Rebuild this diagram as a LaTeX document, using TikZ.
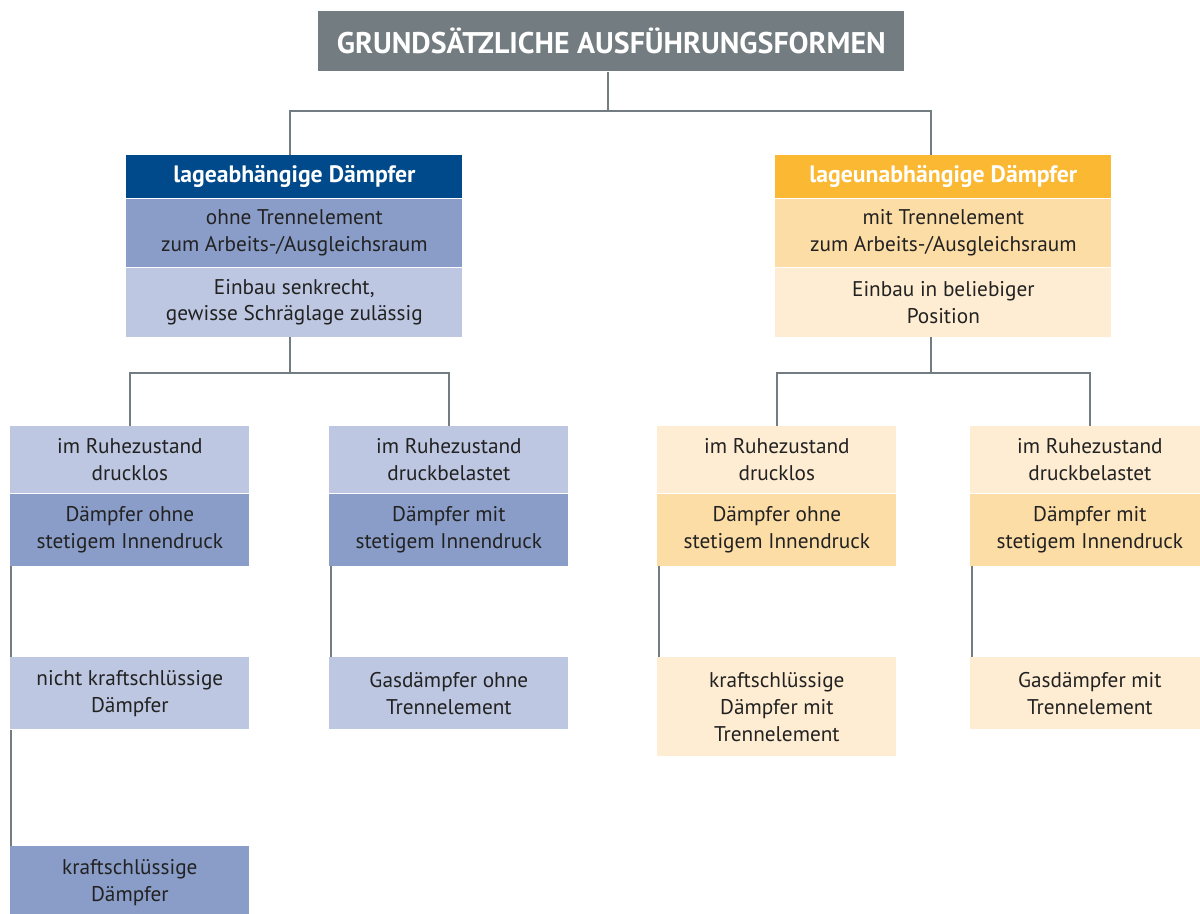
\documentclass[tikz,border=0pt]{standalone}
\usepackage{fontspec}
\setmainfont{PT Sans}
\usetikzlibrary{positioning}
\definecolor{titelgrau}{HTML}{737C80}
\definecolor{blaudunkel}{HTML}{004A8B}
\definecolor{blaumittel}{HTML}{8A9DC8}
\definecolor{blauhell}{HTML}{BDC7E1}
\definecolor{orangedunkel}{HTML}{FBB933}
\definecolor{orangemittel}{HTML}{FDDDA6}
\definecolor{orangehell}{HTML}{FEEDD2}
\definecolor{textgrau}{HTML}{222222}
\tikzset{
titelbox/.style={rectangle, fill=titelgrau, text=white, font=\fontsize{17}{20}\selectfont\bfseries, minimum width=117.2mm, minimum height=12mm, inner sep=0pt},
kopfbox/.style={rectangle, text=white, font=\fontsize{13.5}{16}\selectfont\bfseries, minimum width=67.2mm, minimum height=8.6mm, inner sep=0pt},
breitbox/.style={rectangle, text=textgrau, font=\fontsize{12.1}{15.3}\selectfont, align=center, minimum width=67.2mm, inner sep=0pt},
schmalbox/.style={rectangle, text=textgrau, font=\fontsize{12.1}{15.3}\selectfont, align=center, minimum width=47.8mm, inner sep=0pt},
verbindung/.style={draw=titelgrau, line width=1.4pt},
}
\begin{document}
\begin{tikzpicture}[x=0.2mm,y=-0.2mm]
\clip (0,0) rectangle (1200,913);
\fill[white] (0,0) rectangle (1200,913);

\node[titelbox, anchor=north west] at (318,11) (titel) {GRUNDSÄTZLICHE AUSFÜHRUNGSFORMEN};

% linker Zweig
\node[kopfbox, fill=blaudunkel, anchor=north west] at (126,155) (lkopf) {lageabhängige Dämpfer};
\node[breitbox, fill=blaumittel, minimum height=13.6mm, below=0pt of lkopf] (lmitte) {ohne Trennelement\\zum Arbeits-/Ausgleichsraum};
\node[breitbox, fill=blauhell, minimum height=13.8mm, below=0pt of lmitte] (lunten) {Einbau senkrecht,\\gewisse Schräglage zulässig};

% rechter Zweig
\node[kopfbox, fill=orangedunkel, anchor=north west] at (775,155) (rkopf) {lageunabhängige Dämpfer};
\node[breitbox, fill=orangemittel, minimum height=13.6mm, below=0pt of rkopf] (rmitte) {mit Trennelement\\zum Arbeits-/Ausgleichsraum};
\node[breitbox, fill=orangehell, minimum height=13.8mm, below=0pt of rmitte] (runten) {Einbau in beliebiger\\Position};

% untere Reihe, blau
\node[schmalbox, fill=blauhell, minimum height=13.4mm, anchor=north west] at (10,426) (a1) {im Ruhezustand\\drucklos};
\node[schmalbox, fill=blaumittel, minimum height=14.4mm, below=0pt of a1] (a2) {Dämpfer ohne\\stetigem Innendruck};
\node[schmalbox, fill=blauhell, minimum height=14.4mm, anchor=north west] at (10,657) (a3) {nicht kraftschlüssige\\Dämpfer};
\node[schmalbox, fill=blaumittel, minimum height=14.4mm, anchor=north west] at (10,846) (a4) {kraftschlüssige\\Dämpfer};

\node[schmalbox, fill=blauhell, minimum height=13.4mm, anchor=north west] at (329,426) (b1) {im Ruhezustand\\druckbelastet};
\node[schmalbox, fill=blaumittel, minimum height=14.4mm, below=0pt of b1] (b2) {Dämpfer mit\\stetigem Innendruck};
\node[schmalbox, fill=blauhell, minimum height=14.4mm, anchor=north west] at (329,657) (b3) {Gasdämpfer ohne\\Trennelement};

% untere Reihe, orange
\node[schmalbox, fill=orangehell, minimum height=13.4mm, anchor=north west] at (657,426) (c1) {im Ruhezustand\\drucklos};
\node[schmalbox, fill=orangemittel, minimum height=14.4mm, below=0pt of c1] (c2) {Dämpfer ohne\\stetigem Innendruck};
\node[schmalbox, fill=orangehell, minimum height=19.8mm, anchor=north west] at (657,657) (c3) {kraftschlüssige\\Dämpfer mit\\Trennelement};

\node[schmalbox, fill=orangehell, minimum height=13.4mm, anchor=north west] at (970,426) (d1) {im Ruhezustand\\druckbelastet};
\node[schmalbox, fill=orangemittel, minimum height=14.4mm, below=0pt of d1] (d2) {Dämpfer mit\\stetigem Innendruck};
\node[schmalbox, fill=orangehell, minimum height=14.4mm, anchor=north west] at (970,657) (d3) {Gasdämpfer mit\\Trennelement};

% Verbindungen
\coordinate (gabel0) at (608,111);
\coordinate (gabell) at (290,373);
\coordinate (gabelr) at (931,373);
\draw[verbindung] (titel.south -| gabel0) -- (gabel0);
\draw[verbindung] (lkopf.north -| gabell) |- (gabel0) -| (rkopf.north -| gabelr);
\draw[verbindung] (lunten.south -| gabell) -- (gabell);
\draw[verbindung] (a1.north) |- (gabell) -| (b1.north);
\draw[verbindung] (runten.south -| gabelr) -- (gabelr);
\draw[verbindung] (c1.north) |- (gabelr) -| (d1.north);
\draw[verbindung] ([xshift=0.2mm]a2.south west) -- ([xshift=0.2mm]a3.north west);
\draw[verbindung] ([xshift=0.2mm]a3.south west) -- ([xshift=0.2mm]a4.north west);
\draw[verbindung] ([xshift=0.4mm]b2.south west) -- ([xshift=0.4mm]b3.north west);
\draw[verbindung] ([xshift=0.4mm]c2.south west) -- ([xshift=0.4mm]c3.north west);
\draw[verbindung] ([xshift=0.4mm]d2.south west) -- ([xshift=0.4mm]d3.north west);
\end{tikzpicture}
\end{document}
